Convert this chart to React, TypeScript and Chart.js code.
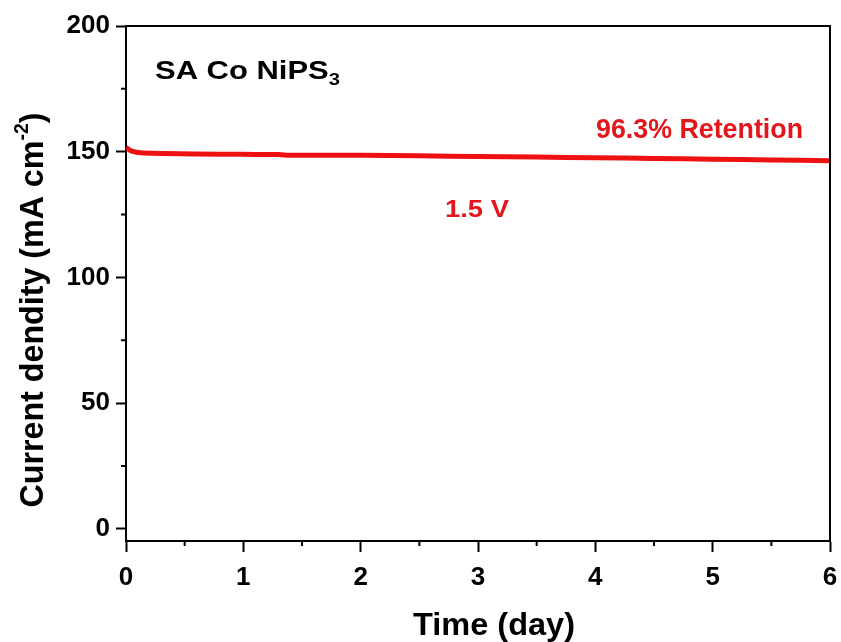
import React, { useEffect, useRef } from "react";
import { Chart, registerables } from "chart.js";

Chart.register(...registerables);

const timeDays = [0, 0.02, 0.05, 0.1, 0.15, 0.3, 0.6, 1.0, 1.3, 1.4, 2.0, 2.5, 3.0, 3.5, 4.0, 4.5, 5.0, 5.5, 6.0];
const currentDensity = [151.6, 151.0, 150.2, 149.7, 149.5, 149.3, 149.1, 148.95, 148.85, 148.6, 148.6, 148.4, 148.1, 147.9, 147.6, 147.35, 147.05, 146.75, 146.4];
const yTickValues = [0, 50, 100, 150, 200];
const yMinorValues = [25, 75, 125, 175];
const xMinorValues = [0.5, 1.5, 2.5, 3.5, 4.5, 5.5];

const sampleLabel = ["SA Co NiPS", "3"];
const retentionLabel = "96.3% Retention";
const voltageLabel = "1.5 V";
const xTitle = "Time (day)";
const yTitle = ["Current dendity (mA cm", "-2", ")"];

const FONT = "'Liberation Sans', Arial, sans-serif";
const RED_LINE = "#ee1111";
const RED_TEXT = "#e3161b";

type Seg = { text: string; size: number; dy: number };

function drawSegs(ctx: CanvasRenderingContext2D, segs: Seg[], x: number, y: number, targetWidth: number, color: string, align: "left" | "center") {
  ctx.save();
  ctx.fillStyle = color;
  ctx.textBaseline = "alphabetic";
  ctx.textAlign = "left";
  let natural = 0;
  const widths = segs.map((s) => {
    ctx.font = `bold ${s.size}px ${FONT}`;
    const w = ctx.measureText(s.text).width;
    natural += w;
    return w;
  });
  const sx = targetWidth / natural;
  ctx.translate(x, y);
  ctx.scale(sx, 1);
  let cx = align === "center" ? -natural / 2 : 0;
  segs.forEach((s, i) => {
    ctx.font = `bold ${s.size}px ${FONT}`;
    ctx.fillText(s.text, cx, s.dy);
    cx += widths[i];
  });
  ctx.restore();
}

const decorPlugin = {
  id: "decor",
  afterDraw(chart: any) {
    const ctx: CanvasRenderingContext2D = chart.ctx;
    const { left, right, top, bottom } = chart.chartArea;
    const xs = chart.scales.x;
    const ys = chart.scales.y;
    ctx.save();
    ctx.strokeStyle = "#000";
    ctx.lineWidth = 2;
    ctx.beginPath();
    ctx.moveTo(left - 1, top);
    ctx.lineTo(right, top);
    ctx.lineTo(right, bottom);
    ctx.stroke();
    ctx.beginPath();
    xMinorValues.forEach((v) => {
      const px = xs.getPixelForValue(v);
      ctx.moveTo(px, bottom);
      ctx.lineTo(px, bottom + 5);
    });
    yMinorValues.forEach((v) => {
      const py = ys.getPixelForValue(v);
      ctx.moveTo(left, py);
      ctx.lineTo(left - 5, py);
    });
    ctx.stroke();
    ctx.restore();

    drawSegs(ctx, [{ text: sampleLabel[0], size: 26, dy: 0 }, { text: sampleLabel[1], size: 17, dy: 6 }], 155, 79, 185, "#000", "left");
    drawSegs(ctx, [{ text: retentionLabel, size: 28, dy: 0 }], 596, 138, 207, RED_TEXT, "left");
    drawSegs(ctx, [{ text: voltageLabel, size: 24, dy: 0 }], 445, 217, 64, RED_TEXT, "left");
    drawSegs(ctx, [{ text: xTitle, size: 32, dy: 0 }], 494, 635, 162, "#000", "center");

    ctx.save();
    ctx.translate(43, 310);
    ctx.rotate(-Math.PI / 2);
    drawSegs(ctx, [
      { text: yTitle[0], size: 33, dy: 0 },
      { text: yTitle[1], size: 20, dy: -15 },
      { text: yTitle[2], size: 33, dy: 0 },
    ], 0, 0, 395, "#000", "center");
    ctx.restore();
  },
};

export default function App() {
  const ref = useRef<HTMLCanvasElement | null>(null);
  useEffect(() => {
    if (!ref.current) return;
    const tickFont = { family: FONT, size: 26, weight: "bold" as const };
    const chart = new Chart(ref.current, {
      type: "line",
      data: {
        datasets: [
          {
            data: timeDays.map((t, i) => ({ x: t, y: currentDensity[i] })),
            borderColor: RED_LINE,
            borderWidth: 5,
            pointRadius: 0,
            tension: 0.3,
            fill: false,
          },
        ],
      },
      options: {
        responsive: false,
        animation: false,
        devicePixelRatio: 1,
        layout: { padding: { top: 26, right: 11, left: 0, bottom: 0 } },
        plugins: { legend: { display: false }, tooltip: { enabled: false } },
        scales: {
          x: {
            type: "linear",
            min: 0,
            max: 6,
            ticks: { stepSize: 1, color: "#000", font: tickFont, padding: 10, maxRotation: 0 },
            grid: { drawOnChartArea: false, drawTicks: true, tickLength: 11, tickWidth: 2, tickColor: "#000" },
            border: { display: true, color: "#000", width: 2 },
            afterFit: (s: any) => { s.height = 101; s.paddingLeft = 0; s.paddingRight = 0; },
          },
          y: {
            type: "linear",
            min: -4.8,
            max: 200,
            afterBuildTicks: (s: any) => { s.ticks = yTickValues.map((v) => ({ value: v })); },
            ticks: { color: "#000", font: tickFont, padding: 6 },
            grid: { drawOnChartArea: false, drawTicks: true, tickLength: 10, tickWidth: 2, tickColor: "#000" },
            border: { display: true, color: "#000", width: 2 },
            afterFit: (s: any) => { s.width = 126; s.paddingTop = 0; s.paddingBottom = 0; },
          },
        },
      },
      plugins: [decorPlugin],
    });
    return () => chart.destroy();
  }, []);
  return (
    <div style={{ position: "absolute", left: 0, top: 0, width: 841, height: 642, background: "#fff" }}>
      <canvas ref={ref} width={841} height={642} />
    </div>
  );
}
